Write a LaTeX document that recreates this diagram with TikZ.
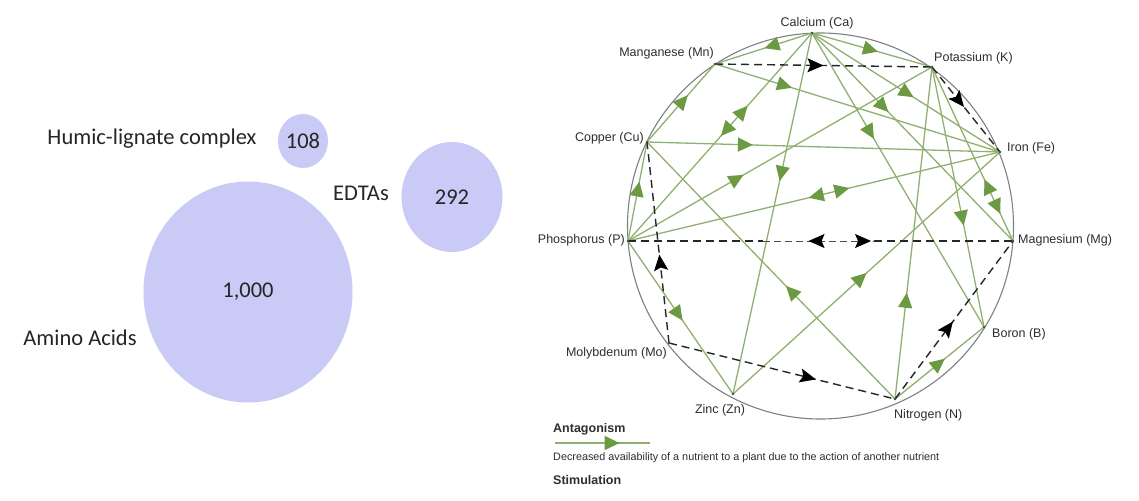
\documentclass[tikz,border=0pt]{standalone}
\usepackage{fontspec}
\setmainfont{Liberation Sans}
\newfontfamily\calib{Carlito}
\usetikzlibrary{arrows.meta,decorations.markings,calc,shapes.geometric}
\definecolor{gline}{HTML}{8FB070}
\definecolor{ghead}{HTML}{6B9A42}
\definecolor{bubc}{HTML}{C9CAF6}
\definecolor{lbl}{HTML}{2E2E2E}
\definecolor{ltxt}{HTML}{262626}
\tikzset{
  ant/.style={draw=gline, line width=1.3pt},
  am/.style={postaction={decorate, decoration={markings, mark=at position #1 with {\arrow[ghead]{Triangle[length=15pt,width=14pt]}}}}},
  amr/.style={postaction={decorate, decoration={markings, mark=at position #1 with {\arrowreversed[ghead]{Triangle[length=15pt,width=14pt]}}}}},
  dsh/.style={draw=black!85, line width=1.4pt, dash pattern=on 8pt off 5pt},
  dthin/.style={draw=black!70, line width=0.8pt, dash pattern=on 7pt off 4pt},
  dm/.style={postaction={decorate, decoration={markings, mark=at position #1 with {\arrow[black]{Stealth[length=16pt,width=14pt,inset=3pt]}}}}},
  dmr/.style={postaction={decorate, decoration={markings, mark=at position #1 with {\arrowreversed[black]{Stealth[length=16pt,width=14pt,inset=3pt]}}}}},
  lab/.style={font=\fontsize{12.5}{15}\selectfont, text=lbl, inner sep=0pt},
  bubble/.style={ellipse, fill=bubc, inner sep=0pt, font=\calib\fontsize{22.5}{26}\selectfont, text=ltxt},
  ltext/.style={font=\calib\fontsize{22.5}{26}\selectfont, text=ltxt, inner sep=0pt},
  legh/.style={font=\bfseries\fontsize{12.5}{14}\selectfont, text=lbl, inner sep=0pt, anchor=west},
  legt/.style={font=\fontsize{10.8}{12}\selectfont, text=lbl, inner sep=0pt, anchor=west},
}
\begin{document}
\begin{tikzpicture}[x=1pt,y=-1pt]
\useasboundingbox (0,0) rectangle (1139,500);
\fill[white] (0,0) rectangle (1139,500);

% ---- left bubbles ----
\node[bubble, minimum width=209pt, minimum height=221pt] (aa) at (248,292) {1,000};
\node[bubble, minimum width=101pt, minimum height=110pt] (ed) at (452,197) {292};
\node[bubble, minimum width=50pt, minimum height=54pt] (hu) at (303,141) {108};
\node[ltext] (hut) at (152,139) {Humic-lignate complex};
\node[ltext] (edt) at (361,193) {EDTAs};
\node[ltext] (aat) at (80,338) {Amino Acids};

% ---- circle diagram ----
\coordinate (O) at (820.5,226);
\draw[draw=black!50, line width=1.1pt] (O) circle[radius=193pt];

\coordinate (Ca) at (812,33);
\coordinate (Mn) at (715,64);
\coordinate (K)  at (932,67);
\coordinate (Cu) at (647,142);
\coordinate (Fe) at (1000,152);
\coordinate (P)  at (628,241);
\coordinate (Mg) at (1013,241);
\coordinate (Mo) at (669,343);
\coordinate (Zn) at (733,394);
\coordinate (N)  at (895,399);
\coordinate (B)  at (984,327);

% antagonism (green)
\draw[ant, am=0.49] (Ca) -- (Mn);
\draw[ant, am=0.55] (Ca) -- (K);
\draw[ant, am=0.54] (Ca) -- (Fe);
\draw[ant, am=0.38] (Ca) -- (Mg);
\draw[ant, am=0.36] (Ca) -- (B);
\draw[ant, am=0.41] (Ca) -- (Zn);
\draw[ant, amr=0.35, am=0.495] (Ca) -- (P);
\draw[ant, am=0.27] (Mn) -- (Fe);
\draw[ant, am=0.60] (Cu) -- (Mn);
\draw[ant, am=0.60] (P) -- (Cu);
\draw[ant, am=0.30] (Cu) -- (Fe);
\draw[ant, am=0.44] (N) -- (Cu);
\draw[ant, am=0.38] (P) -- (K);
\draw[ant, amr=0.486, am=0.595] (P) -- (Fe);
\draw[ant, am=0.52] (P) -- (Zn);
\draw[ant, amr=0.646, am=0.844] (K) -- (Mg);
\draw[ant, am=0.61] (K) -- (B);
\draw[ant, am=0.32] (N) -- (K);
\draw[ant, am=0.50] (Zn) -- (Fe);
\draw[ant, am=0.56] (N) -- (B);

% stimulation (dashed)
\draw[dsh, dm=0.50] (Mn) -- (K);
\draw[dsh, dm=0.44] (Mo) -- (Cu);
\draw[dsh, dm=0.47] (K) -- (Fe);
\draw[dsh, dm=0.49] (N) -- (Mg);
\draw[dsh, dm=0.65] (Mo) -- (N);
\coordinate (pm1) at ($(P)!0.35!(Mg)$);
\coordinate (pm2) at ($(P)!0.64!(Mg)$);
\draw[dsh] (P) -- (pm1);
\draw[dthin, dmr=0.41, dm=0.97] (pm1) -- (pm2);
\draw[dsh] (pm2) -- (Mg);

\foreach \q in {Ca,Mn,K,Cu,Fe,P,Mg,Mo,Zn,N,B} \fill[black!70] (\q) circle[radius=1.3pt];

% labels
\node[lab] (lCa) at (817,23) {Calcium (Ca)};
\node[lab, anchor=east] (lMn) at (714,53) {Manganese (Mn)};
\node[lab, anchor=west] (lK) at (934,58) {Potassium (K)};
\node[lab, anchor=east] (lCu) at (644,138) {Copper (Cu)};
\node[lab, anchor=west] (lFe) at (1007,148) {Iron (Fe)};
\node[lab, anchor=east] (lP) at (625,240) {Phosphorus (P)};
\node[lab, anchor=west] (lMg) at (1018,240) {Magnesium (Mg)};
\node[lab, anchor=east] (lMo) at (667,353) {Molybdenum (Mo)};
\node[lab] (lZn) at (720,410) {Zinc (Zn)};
\node[lab, anchor=west] (lN) at (894,415) {Nitrogen (N)};
\node[lab, anchor=west] (lB) at (992,334) {Boron (B)};

% legend
\node[legh] (antg) at (553,429) {Antagonism};
\coordinate (lg1) at (555,443);
\coordinate (lg2) at (650,443);
\draw[ant, am=0.68] (lg1) -- (lg2);
\node[legt] (dec) at (553,458) {Decreased availability of a nutrient to a plant due to the action of another nutrient};
\node[legh] (stim) at (553,480) {Stimulation};
\end{tikzpicture}
\end{document}
